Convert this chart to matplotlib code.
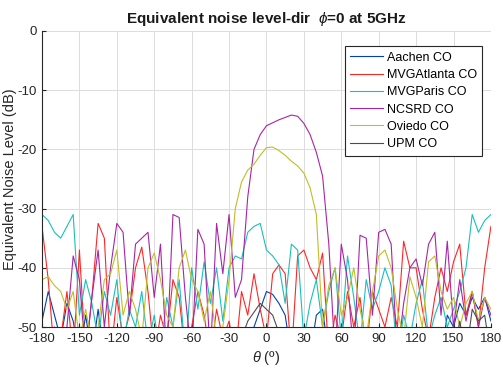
import numpy as np
from matplotlib import pyplot as plt

plt.rcParams['font.family'] = ['Liberation Sans', 'DejaVu Sans']
plt.rcParams['mathtext.fontset'] = 'custom'
plt.rcParams['mathtext.it'] = 'Liberation Sans:italic'
plt.rcParams['axes.unicode_minus'] = False

theta = np.arange(-180, 181, 5)

aachen = [-49, -44, -48, -52, -46, -49, -55, -48, -55, -47, -55, -55, -55, -55, -55, -55, -55, -55, -55,
          -55, -55, -55, -55, -55, -55, -55, -55, -55, -55, -55, -55, -55, -55, -55, -50, -47, -44, -44.5,
          -46, -48, -55, -55, -55, -55, -48, -47, -55, -55, -55, -55, -55, -55, -55, -55, -55, -55, -55,
          -55, -55, -55, -55, -55, -55, -55, -55, -48, -50, -46, -48, -45, -47, -45, -49]
atlanta = [-33, -42, -55, -52, -44, -55, -37, -55, -45, -32.5, -35, -55, -45, -52, -48, -40, -36.5, -44,
           -55, -48, -52, -42, -45, -55, -50, -44, -48, -55, -47, -52, -49, -55, -44, -48, -41, -47, -52,
           -41, -39.5, -41, -55, -38, -37, -40, -42, -37.5, -55, -48, -52, -44, -50, -45, -54, -44, -47,
           -50, -45, -50, -35.5, -40, -40, -47, -52, -45, -40, -44, -39, -36, -48, -44, -50, -40, -33]
paris = [-31, -32, -34, -35, -33, -31, -48, -42, -46, -52, -44, -48, -42, -53, -47, -50, -44, -53, -48,
         -55, -45, -50, -42, -55, -40, -47, -39, -46, -40, -49, -40, -38, -38.5, -34, -33, -32.5, -37,
         -38, -39.5, -46, -36, -37, -52, -46, -42, -50, -44, -40, -52, -38, -45, -53, -42, -47, -44, -40,
         -43, -55, -48, -52, -46, -42, -52, -48, -45, -50, -47, -44, -40, -31, -34, -32, -31]
ncsrd = [-52, -55, -50, -55, -50, -38, -42, -55, -45, -37, -50, -40, -32.5, -34, -48, -36, -35, -34, -45,
         -36, -55, -31, -31.5, -45, -55, -33.5, -36, -55, -32.5, -41, -31, -45, -42, -28, -20, -17.5, -16,
         -15.5, -15, -14.6, -14.2, -14.4, -15.6, -17.5, -20.5, -24.5, -36, -55, -36, -42, -55, -34.5, -35,
         -48, -34, -33.5, -36, -55, -46, -40, -38.5, -43, -36, -34, -48, -35.5, -50, -42, -49, -44, -50,
         -45, -48]
oviedo = [-42, -41.5, -43, -44, -47, -44, -52, -47, -53, -50, -42, -41, -37, -48, -44, -47, -52, -40,
          -37.5, -42, -48, -50, -40, -37, -42, -44, -49, -44, -52, -50, -42, -30, -25.5, -23.5, -22.5, -21,
          -19.7, -19.6, -20.2, -21, -22, -22.8, -24, -26.5, -31, -50, -43, -40, -48, -45, -40, -47, -52,
          -44, -38, -37, -40, -47, -52, -41.5, -45, -50, -39, -38, -44, -47, -45, -50, -46, -44, -49, -45,
          -47]
upm = [-55, -55, -55, -55, -55, -55, -55, -55, -55, -55, -55, -55, -55, -55, -55, -55, -55, -55, -55,
       -55, -55, -55, -55, -55, -55, -55, -55, -55, -55, -55, -55, -55, -52, -49, -47.5, -46, -47, -48,
       -51, -55, -55, -55, -55, -55, -55, -55, -55, -55, -55, -55, -55, -55, -55, -55, -55, -55, -55,
       -55, -55, -55, -55, -55, -55, -55, -55, -55, -55, -49, -55, -47, -49, -48, -55]

series = [('Aachen CO', aachen, (0.0, 0.25, 0.7)),
          ('MVGAtlanta CO', atlanta, (1.0, 0.15, 0.15)),
          ('MVGParis CO', paris, (0.1, 0.75, 0.75)),
          ('NCSRD CO', ncsrd, (0.65, 0.15, 0.65)),
          ('Oviedo CO', oviedo, (0.75, 0.75, 0.15)),
          ('UPM CO', upm, (0.3, 0.3, 0.3))]

fig = plt.figure(figsize=(5.03, 3.73), dpi=100)
ax = fig.add_axes([0.0835, 0.1233, 0.8925, 0.7936])

for name, vals, col in series:
    assert len(vals) == len(theta), name
    ax.plot(theta, vals, color=col, lw=0.8, label=name)

ax.set_xlim(-180, 180)
ax.set_ylim(-50, 0)
ax.set_xticks(np.arange(-180, 181, 30))
ax.set_yticks(np.arange(-50, 1, 10))
ax.grid(True, color='#dcdcdc', lw=0.7)
ax.set_axisbelow(True)
for s in ['top', 'right']:
    ax.spines[s].set_visible(False)
for s in ['left', 'bottom']:
    ax.spines[s].set_color('#262626')
    ax.spines[s].set_linewidth(0.8)
ax.tick_params(direction='in', length=3, labelsize=9.5, colors='#262626', pad=4)

ax.set_title(r'Equivalent noise level-dir  $\phi$=0 at 5GHz', fontsize=11, fontweight='bold',
             color='#1a1a1a', pad=6)
ax.set_xlabel(r'$\theta$ (º)', fontsize=10.5, color='#262626', labelpad=3)
ax.set_ylabel('Equivalent Noise Level (dB)', fontsize=10.5, color='#262626')
ax.yaxis.set_label_coords(-0.055, 0.5)

leg = ax.legend(loc='upper right', bbox_to_anchor=(0.995, 0.97), fontsize=9, fancybox=False,
                framealpha=1, edgecolor='#262626', handlelength=2.6, borderpad=0.45,
                labelspacing=0.42, handletextpad=0.3)
leg.get_frame().set_linewidth(0.8)

fig.savefig('out.png', dpi=100)
